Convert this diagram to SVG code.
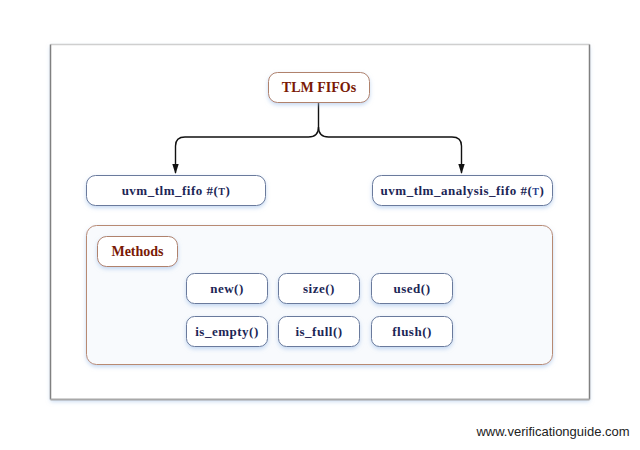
<svg xmlns="http://www.w3.org/2000/svg" width="640" height="450" viewBox="0 0 640 450">
<style>
.node rect{fill:#ffffff;stroke:#6a7a9c;stroke-width:1;filter:url(#sh)}
.root rect{fill:#ffffff;stroke:#b0826c;stroke-width:1;filter:url(#sh)}
.t{font-family:"Liberation Serif","Times New Roman",serif;font-weight:bold;font-size:13px;letter-spacing:0.5px;fill:#1c2656;text-anchor:middle}
.tr{font-family:"Liberation Serif","Times New Roman",serif;font-weight:bold;font-size:14px;fill:#7a1a05;text-anchor:middle}
.con{fill:none;stroke:#111;stroke-width:1.4}
</style>
<defs>
<filter id="sh" x="-20%" y="-30%" width="140%" height="170%">
<feDropShadow dx="0" dy="2" stdDeviation="2" flood-color="#9fbfe8" flood-opacity="0.6"/>
</filter>
<marker id="ar" markerWidth="10" markerHeight="12" refX="9" refY="4" orient="auto" markerUnits="userSpaceOnUse">
<path d="M0,0.8 L10,4 L0,7.2 Z" fill="#111"/>
</marker>
</defs>
<rect width="640" height="450" fill="#ffffff"/>
<g id="frame">
<rect x="50.5" y="44.5" width="539" height="355" fill="#ffffff" stroke="none" filter="url(#sh)"/>
<line x1="50.5" y1="44.5" x2="589.5" y2="44.5" stroke="#cfcfcf" stroke-width="1.5"/>
<line x1="50.5" y1="44.5" x2="50.5" y2="399.5" stroke="#808080" stroke-width="1.5"/>
<line x1="589.5" y1="44.5" x2="589.5" y2="399.5" stroke="#808080" stroke-width="1.5"/>
<line x1="50.5" y1="399.5" x2="589.5" y2="399.5" stroke="#a8a8a8" stroke-width="2"/>
</g>
<g id="connectors">
<path class="con" d="M318.5,103 V127 Q318.5,137 308.5,137 H185 Q175.5,137 175.5,146 V173" marker-end="url(#ar)"/>
<path class="con" d="M318.5,127 Q318.5,137 328.5,137 H452 Q461.5,137 461.5,146 V173" marker-end="url(#ar)"/>
</g>
<g id="tlm_fifos" class="root">
<rect x="268.5" y="72.5" width="101" height="30" rx="9"/>
<text class="tr" x="319" y="92">TLM FIFOs</text>
</g>
<g id="uvm_tlm_fifo" class="node">
<rect x="86.5" y="175.5" width="179" height="30" rx="9"/>
<text class="t" x="176" y="195">uvm_tlm_fifo #(<tspan font-size="10">T</tspan>)</text>
</g>
<g id="uvm_tlm_analysis_fifo" class="node">
<rect x="372.5" y="175.5" width="180" height="30" rx="9"/>
<text class="t" x="462.5" y="195">uvm_tlm_analysis_fifo #(<tspan font-size="10" fill="#1e3c8c">T</tspan>)</text>
</g>
<g id="methods_group">
<rect x="86.5" y="225.5" width="466" height="139" rx="10" fill="#f8fafd" stroke="#b88a72" stroke-width="1" filter="url(#sh)"/>
</g>
<g id="methods" class="root">
<rect x="97.5" y="236.5" width="80" height="30" rx="9"/>
<text class="tr" x="137.5" y="256">Methods</text>
</g>
<g id="m_new" class="node">
<rect x="186.5" y="273.5" width="81" height="30" rx="8"/>
<text class="t" x="227" y="293">new()</text>
</g>
<g id="m_size" class="node">
<rect x="278.5" y="273.5" width="81" height="30" rx="8"/>
<text class="t" x="319" y="293">size()</text>
</g>
<g id="m_used" class="node">
<rect x="371.5" y="273.5" width="81" height="30" rx="8"/>
<text class="t" x="412" y="293">used()</text>
</g>
<g id="m_is_empty" class="node">
<rect x="186.5" y="316.5" width="81" height="30" rx="8"/>
<text class="t" x="227" y="336">is_empty()</text>
</g>
<g id="m_is_full" class="node">
<rect x="278.5" y="316.5" width="81" height="30" rx="8"/>
<text class="t" x="319" y="336">is_full()</text>
</g>
<g id="m_flush" class="node">
<rect x="371.5" y="316.5" width="81" height="30" rx="8"/>
<text class="t" x="412" y="336">flush()</text>
</g>
<text x="553" y="436" font-family="'Liberation Sans',Arial,sans-serif" font-size="13" fill="#222" text-anchor="middle">www.verificationguide.com</text>
</svg>
